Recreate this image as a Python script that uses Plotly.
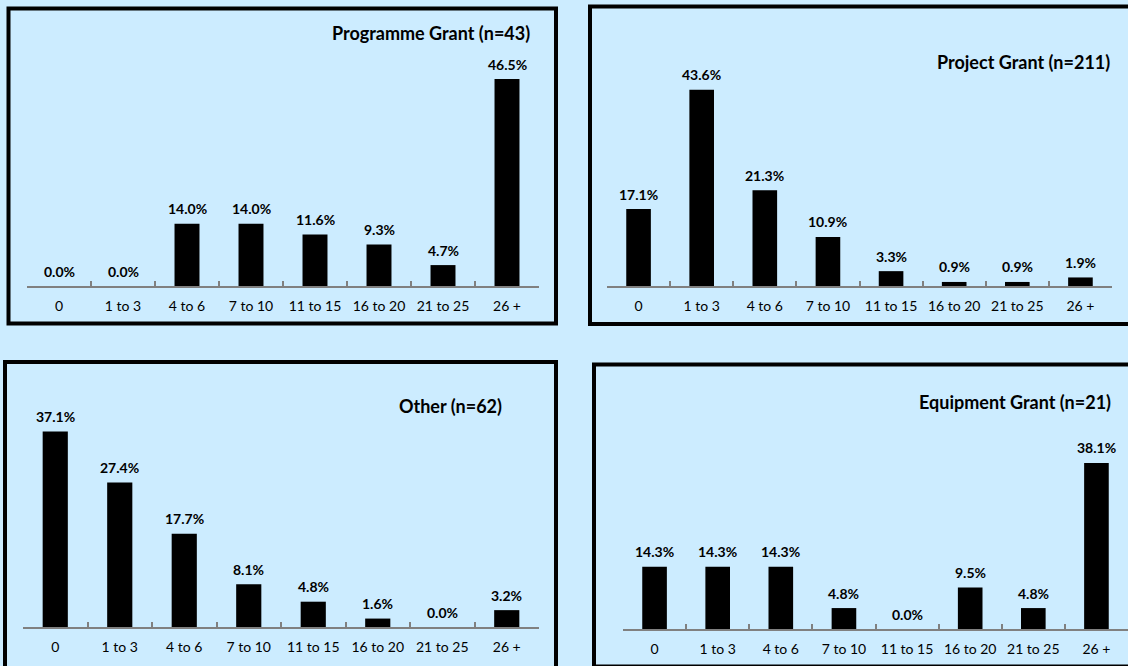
import plotly.graph_objects as go

categories = ["0", "1 to 3", "4 to 6", "7 to 10", "11 to 15", "16 to 20", "21 to 25", "26 +"]
programme_grant = [0.0, 0.0, 14.0, 14.0, 11.6, 9.3, 4.7, 46.5]
project_grant = [17.1, 43.6, 21.3, 10.9, 3.3, 0.9, 0.9, 1.9]
other = [37.1, 27.4, 17.7, 8.1, 4.8, 1.6, 0.0, 3.2]
equipment_grant = [14.3, 14.3, 14.3, 4.8, 0.0, 9.5, 4.8, 38.1]
titles = ["Programme Grant (n=43)", "Project Grant (n=211)", "Other (n=62)", "Equipment Grant (n=21)"]

W, H = 1128, 666
BG = "rgb(204,236,255)"
FONT = "Lato"

def px(x):
    return min(max(x / W, -1), 2)

def py(y):
    return 1 - y / H

# panel layout in pixels
panels = [
    dict(data=programme_grant, ax0=27, ax1=539, ay=286, top=40, scale=4.45, tx=532, ty=33,
         rect=(8.5, 8.5, 556, 323.5)),
    dict(data=project_grant, ax0=607, ax1=1112, ay=286, top=40, scale=4.5, tx=1112, ty=62,
         rect=(590, 6.5, 1140, 324)),
    dict(data=other, ax0=23, ax1=539, ay=627, top=380, scale=5.27, tx=504, ty=406,
         rect=(5, 362, 556, 680)),
    dict(data=equipment_grant, ax0=623, ax1=1128, ay=629, top=380, scale=4.36, tx=1113, ty=402,
         rect=(594, 364.5, 1140, 666.5)),
]

fig = go.Figure()
annotations = []
shapes = []
layout = {}
for i, p in enumerate(panels):
    n = "" if i == 0 else str(i + 1)
    xa, ya = "x" + n, "y" + n
    fig.add_trace(go.Bar(x=categories, y=p["data"], marker=dict(color="black", line=dict(width=0)),
                         xaxis=xa, yaxis=ya, showlegend=False, hoverinfo="skip"))
    rng = (p["ay"] - p["top"]) / p["scale"]
    layout["xaxis" + n] = dict(
        domain=[p["ax0"] / W, min(p["ax1"] / W, 1.0)], anchor=ya, type="category",
        showline=True, linecolor="rgb(128,128,128)", linewidth=2,
        ticks="inside", tickson="boundaries", ticklen=5, tickwidth=2, tickcolor="rgb(128,128,128)",
        showgrid=False, zeroline=False, ticklabelstandoff=6,
        tickfont=dict(family=FONT, size=14, color="black"), fixedrange=True,
    )
    layout["yaxis" + n] = dict(
        domain=[py(p["ay"]), py(p["top"])], anchor=xa, range=[0, rng],
        visible=False, showgrid=False, zeroline=False, fixedrange=True,
    )
    for c, v in zip(categories, p["data"]):
        annotations.append(dict(x=c, y=v, xref=xa, yref=ya, text=f"<b>{v:.1f}%</b>", showarrow=False,
                                yshift=15, font=dict(family=FONT, size=14, color="black")))
    annotations.append(dict(x=p["tx"] / W, y=py(p["ty"]), xref="paper", yref="paper",
                            text=f"<b>{titles[i]}</b>", showarrow=False, xanchor="right", yanchor="middle",
                            font=dict(family=FONT, size=18, color="black")))
    x0, y0, x1, y1 = p["rect"]
    shapes.append(dict(type="rect", xref="paper", yref="paper", x0=px(x0), x1=px(x1), y0=py(y0), y1=py(y1),
                       line=dict(color="black", width=4), fillcolor="rgba(0,0,0,0)", layer="below"))

fig.update_layout(
    width=W, height=H, margin=dict(l=0, r=0, t=0, b=0),
    paper_bgcolor=BG, plot_bgcolor=BG, bargap=0.61,
    annotations=annotations, shapes=shapes, **layout,
)
post = (
    "document.body.style.margin='0';document.body.style.padding='0';"
    "document.body.style.overflow='hidden';"
    f"document.body.style.background='{BG}';"
)
fig.write_html("out.html", config={"displayModeBar": False}, post_script=post)
